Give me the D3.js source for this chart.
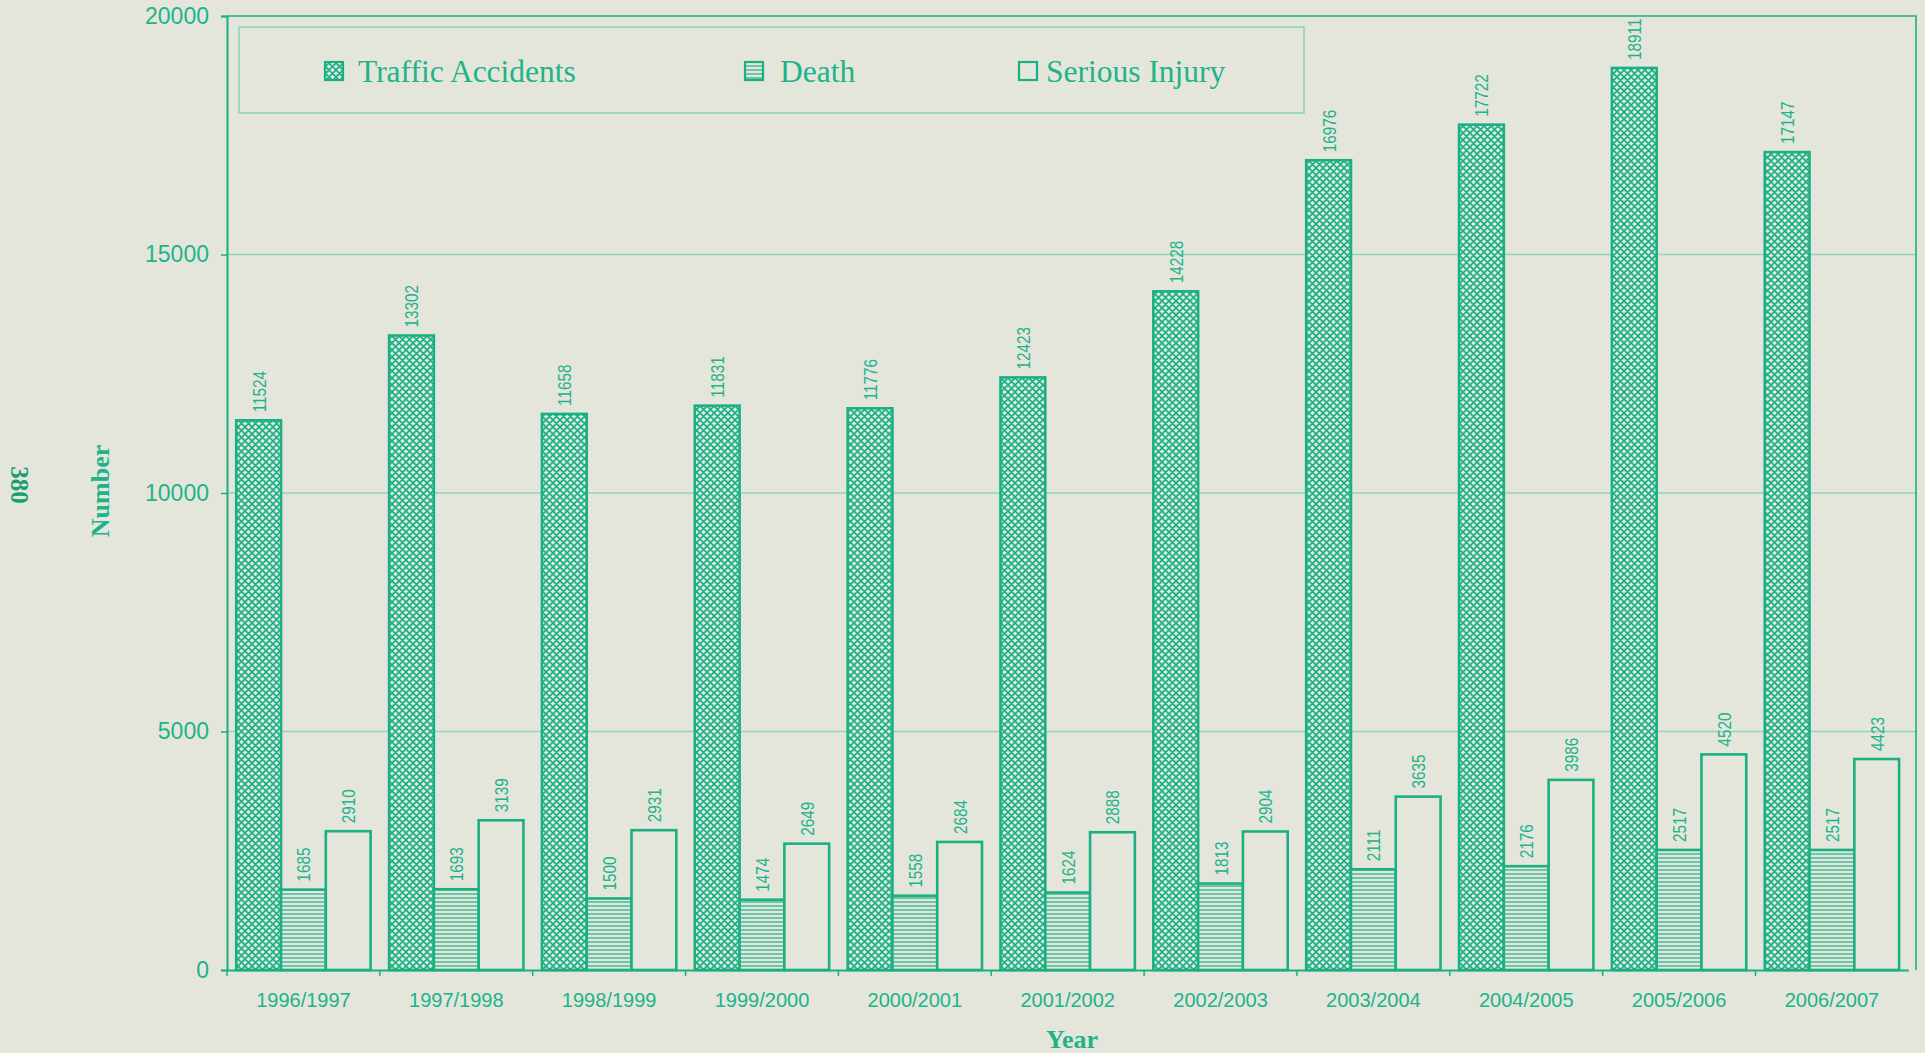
<!DOCTYPE html>
<html><head><meta charset="utf-8">
<script src="https://cdn.jsdelivr.net/npm/d3@7"></script>
<style>
html,body{margin:0;padding:0;background:#e4e6dc;}
svg{display:block;}
</style></head>
<body>
<script>
const categories = ["1996/1997","1997/1998","1998/1999","1999/2000","2000/2001","2001/2002","2002/2003","2003/2004","2004/2005","2005/2006","2006/2007"];
const seriesNames = ["Traffic Accidents","Death","Serious Injury"];
const trafficAccidents = [11524,13302,11658,11831,11776,12423,14228,16976,17722,18911,17147];
const death = [1685,1693,1500,1474,1558,1624,1813,2111,2176,2517,2517];
const seriousInjury = [2910,3139,2931,2649,2684,2888,2904,3635,3986,4520,4423];
const yTicks = [0,5000,10000,15000,20000];

(function(){
const W = 1925, H = 1053;
const green = "#1bb084", textGreen = "#20b38a", gridGreen = "#8fd6bb";
const pLeft = 227, pRight = 1916, pTop = 16, pBottom = 970;
const step = 152.85;

const svg = d3.select("body").append("svg").attr("width", W).attr("height", H);
svg.append("rect").attr("width", W).attr("height", H).attr("fill", "#e4e6dc");

const defs = svg.append("defs");
const ph = defs.append("pattern").attr("id","cross").attr("patternUnits","userSpaceOnUse").attr("width",7).attr("height",7);
ph.append("rect").attr("width",7).attr("height",7).attr("fill","#dde8de");
ph.append("path").attr("d","M0,0L7,7M7,0L0,7M-1,6L1,8M6,-1L8,1M-1,1L1,-1M6,8L8,6").attr("stroke",green).attr("stroke-width",1.6);
const pd = defs.append("pattern").attr("id","hlines").attr("patternUnits","userSpaceOnUse").attr("width",6).attr("height",4);
pd.append("rect").attr("width",6).attr("height",4).attr("fill","#e4e6dc");
pd.append("path").attr("d","M0,2H6").attr("stroke",green).attr("stroke-width",1.2);

const x = d3.scaleBand().domain(categories).range([pLeft, pLeft + categories.length*step]).paddingInner(0.121).paddingOuter(0.0605);
const xs = d3.scaleBand().domain(seriesNames).range([0, x.bandwidth()]);
const y = d3.scaleLinear().domain([0,20000]).range([pBottom, pTop]);

svg.append("g").selectAll("line").data(yTicks.filter(d=>d>0 && d<20000)).join("line")
  .attr("x1", pLeft).attr("x2", pRight).attr("y1", d=>y(d)).attr("y2", d=>y(d))
  .attr("stroke", gridGreen).attr("stroke-width", 1.5);

svg.append("path").attr("d", `M${pLeft},${y(20000)}H${pRight}V${pBottom}`).attr("fill","none").attr("stroke", green).attr("stroke-width",1.6);

const yAxis = svg.append("g").attr("transform",`translate(${pLeft},0)`)
  .call(d3.axisLeft(y).tickValues(yTicks).tickSize(6).tickPadding(12).tickFormat(d3.format("d")));
yAxis.select(".domain").attr("stroke", green).attr("stroke-width",2);
yAxis.selectAll(".tick line").attr("stroke", green).attr("stroke-width",1.5);
yAxis.selectAll("text").attr("fill", textGreen).attr("font-family","Liberation Sans, Arial, sans-serif").attr("font-size",23);

const xAxis = svg.append("g").attr("transform",`translate(0,${pBottom})`)
  .call(d3.axisBottom(x).tickSize(0).tickPadding(23));
xAxis.select(".domain").attr("stroke", green).attr("stroke-width",2.2);
xAxis.selectAll("text").attr("fill", textGreen).attr("font-family","Liberation Sans, Arial, sans-serif").attr("font-size",20);
svg.append("g").selectAll("line").data(categories).join("line")
  .attr("x1", d=>x(d)-x.step()*x.paddingInner()/2).attr("x2", d=>x(d)-x.step()*x.paddingInner()/2)
  .attr("y1", pBottom).attr("y2", pBottom+6).attr("stroke", green).attr("stroke-width",1.5);

const seriesData = [trafficAccidents, death, seriousInjury];
const fills = ["url(#cross)","url(#hlines)","#e4e6dc"];
const bars = svg.append("g");
seriesNames.forEach((s, si) => {
  const g = bars.append("g");
  g.selectAll("rect").data(categories).join("rect")
    .attr("x", (c)=>x(c)+xs(s))
    .attr("y", (c,i)=>y(seriesData[si][i]))
    .attr("width", xs.bandwidth())
    .attr("height", (c,i)=>pBottom - y(seriesData[si][i]))
    .attr("fill", fills[si]).attr("stroke", green).attr("stroke-width",2.6);
  g.selectAll("text").data(categories).join("text")
    .attr("transform", (c,i)=>`translate(${x(c)+xs(s)+xs.bandwidth()/2+7},${y(seriesData[si][i])-8}) rotate(-90) scale(0.9,1.1)`)
    .attr("fill", textGreen).attr("font-family","Liberation Sans, Arial, sans-serif").attr("font-size",17)
    .text((c,i)=>seriesData[si][i]);
});

svg.append("rect").attr("x",239).attr("y",27).attr("width",1065).attr("height",86)
  .attr("fill","none").attr("stroke",gridGreen).attr("stroke-width",1.6);
const legX = [325, 745, 1019];
const legTX = [358, 780, 1046];
seriesNames.forEach((s, i) => {
  svg.append("rect").attr("x",legX[i]).attr("y",62).attr("width",18).attr("height",18)
    .attr("fill", fills[i]).attr("stroke",green).attr("stroke-width",2.2);
  svg.append("text").attr("x",legTX[i]).attr("y",82).attr("fill",textGreen)
    .attr("font-family","Liberation Serif, Times New Roman, serif").attr("font-size",31.5).text(s);
});

svg.append("text").attr("transform","translate(109,491) rotate(-90)").attr("text-anchor","middle")
  .attr("fill",textGreen).attr("font-family","Liberation Serif, Times New Roman, serif").attr("font-weight","bold").attr("font-size",26).text("Number");
svg.append("text").attr("x",1072).attr("y",1048).attr("text-anchor","middle")
  .attr("fill",textGreen).attr("font-family","Liberation Serif, Times New Roman, serif").attr("font-weight","bold").attr("font-size",26).text("Year");
svg.append("text").attr("transform","translate(11,485) rotate(90)").attr("text-anchor","middle")
  .attr("fill","#1a9e72").attr("font-family","Liberation Serif, Times New Roman, serif").attr("font-weight","bold").attr("font-size",25).text("380");
})();
</script>
</body></html>
